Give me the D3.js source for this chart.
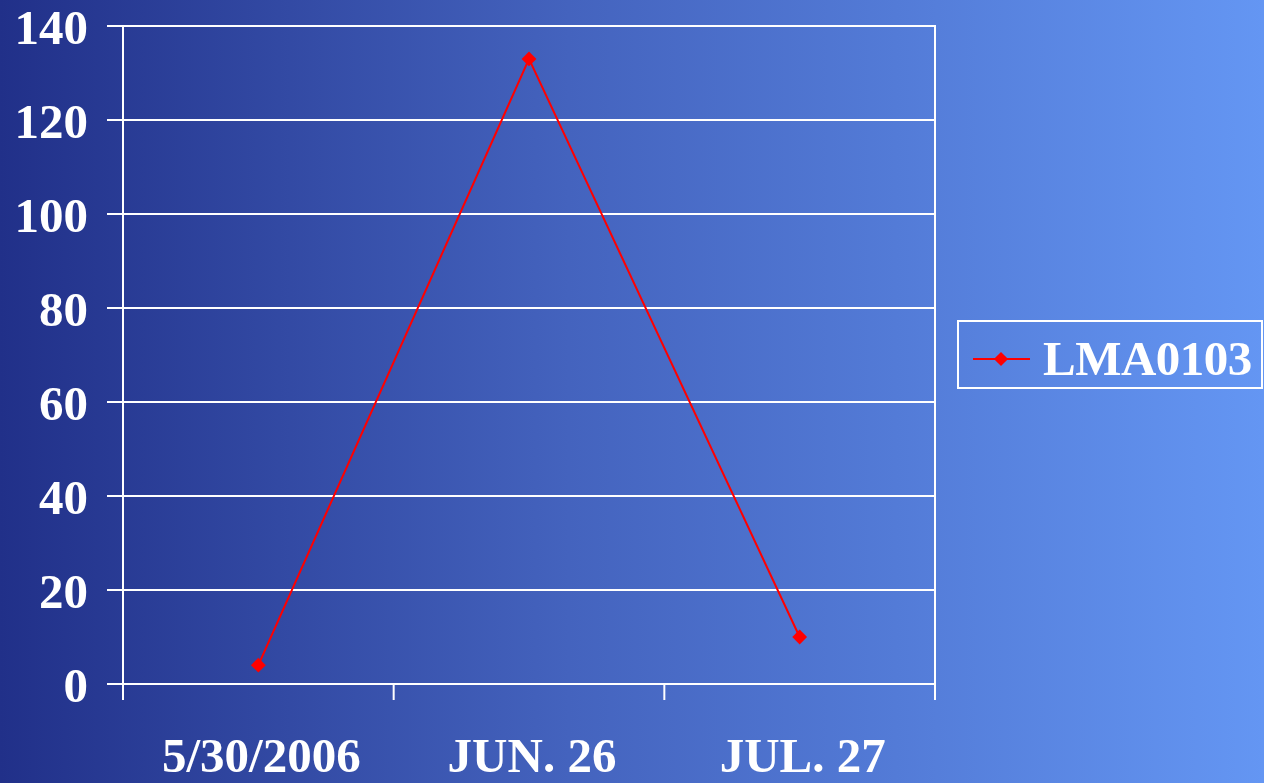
<!DOCTYPE html>
<html>
<head>
<meta charset="utf-8">
<script src="https://cdn.jsdelivr.net/npm/d3@7"></script>
<style>
  html, body { margin: 0; padding: 0; overflow: hidden; }
  text { font-family: "Liberation Serif", "Times New Roman", serif; font-weight: bold; fill: #fff; }
</style>
</head>
<body>
<div id="graph"></div>
<script>
const graphWidth = 1264;
const graphHeight = 783;

const plotLeft = 123;
const plotRight = 935;
const plotTop = 26;
const plotBottom = 684;

// data
const categories = ['5/30/2006', 'JUN. 26', 'JUL. 27'];
const seriesName = 'LMA0103';
const seriesValues = [4, 133, 10];
const yTicks = [0, 20, 40, 60, 80, 100, 120, 140];

function makeGraph() {
  const palette = d3.select('#graph').append('svg')
    .attr('width', graphWidth).attr('height', graphHeight);

  makeBackground(palette);

  const x = d3.scaleBand().domain(categories).range([plotLeft, plotRight]);
  const y = d3.scaleLinear().domain([0, 140]).range([plotBottom, plotTop]);

  makeGrid(palette, x, y);
  makeSeries(palette, x, y);
  makeLegend(palette);
}

function makeBackground(svg) {
  const grad = svg.append('defs').append('linearGradient')
    .attr('id', 'bg').attr('x1', 0).attr('x2', 1).attr('y1', 0).attr('y2', 0);
  grad.append('stop').attr('offset', 0).attr('stop-color', '#213089');
  grad.append('stop').attr('offset', 0.45).attr('stop-color', '#4463be');
  grad.append('stop').attr('offset', 1).attr('stop-color', '#6496f3');
  svg.append('rect').attr('width', graphWidth).attr('height', graphHeight).attr('fill', 'url(#bg)');
}

function makeGrid(svg, x, y) {
  // horizontal gridlines incl. ticks on the left
  svg.append('g').selectAll('line').data(yTicks).enter().append('line')
    .attr('x1', plotLeft - 16).attr('x2', plotRight)
    .attr('y1', d => y(d)).attr('y2', d => y(d))
    .attr('stroke', '#fff').attr('stroke-width', 2);

  // y labels
  svg.append('g').selectAll('text').data(yTicks).enter().append('text')
    .attr('x', 88).attr('y', d => y(d) + 18)
    .attr('text-anchor', 'end')
    .attr('font-size', 49)
    .text(d => d);

  // left axis and right border
  svg.append('line').attr('x1', plotLeft).attr('x2', plotLeft)
    .attr('y1', plotTop - 1).attr('y2', plotBottom + 16)
    .attr('stroke', '#fff').attr('stroke-width', 2);
  svg.append('line').attr('x1', plotRight).attr('x2', plotRight)
    .attr('y1', plotTop - 1).attr('y2', plotBottom + 16)
    .attr('stroke', '#fff').attr('stroke-width', 2);

  // x tick marks at band boundaries
  const bounds = categories.slice(1).map(c => x(c));
  svg.append('g').selectAll('line').data(bounds).enter().append('line')
    .attr('x1', d => d).attr('x2', d => d)
    .attr('y1', plotBottom).attr('y2', plotBottom + 16)
    .attr('stroke', '#fff').attr('stroke-width', 2);

  // x labels (kept just inside the bottom edge)
  svg.append('g').selectAll('text').data(categories).enter().append('text')
    .attr('x', d => x(d) + x.bandwidth() / 2 + 3)
    .attr('y', 772)
    .attr('text-anchor', 'middle')
    .attr('font-size', 49)
    .text(d => d);
}

function makeSeries(svg, x, y) {
  const pts = categories.map((c, i) => [x(c) + x.bandwidth() / 2, y(seriesValues[i])]);
  svg.append('path').attr('d', d3.line()(pts))
    .attr('fill', 'none').attr('stroke', '#ff0000').attr('stroke-width', 2);
  svg.append('g').selectAll('path').data(pts).enter().append('path')
    .attr('d', d3.symbol(d3.symbolSquare, 110)())
    .attr('transform', d => 'translate(' + d[0] + ',' + d[1] + ') rotate(45)')
    .attr('fill', '#ff0000');
}

function makeLegend(svg) {
  const g = svg.append('g');
  g.append('rect').attr('x', 958).attr('y', 321).attr('width', 304).attr('height', 67)
    .attr('fill', 'none').attr('stroke', '#fff').attr('stroke-width', 2);
  g.append('line').attr('x1', 973).attr('x2', 1030).attr('y1', 359).attr('y2', 359)
    .attr('stroke', '#ff0000').attr('stroke-width', 2);
  g.append('path').attr('d', d3.symbol(d3.symbolSquare, 100)())
    .attr('transform', 'translate(1001,359) rotate(45)')
    .attr('fill', '#ff0000');
  g.append('text').attr('x', 1043).attr('y', 375)
    .attr('font-size', 49).attr('letter-spacing', -0.5)
    .text(seriesName);
}

makeGraph();
</script>
</body>
</html>
